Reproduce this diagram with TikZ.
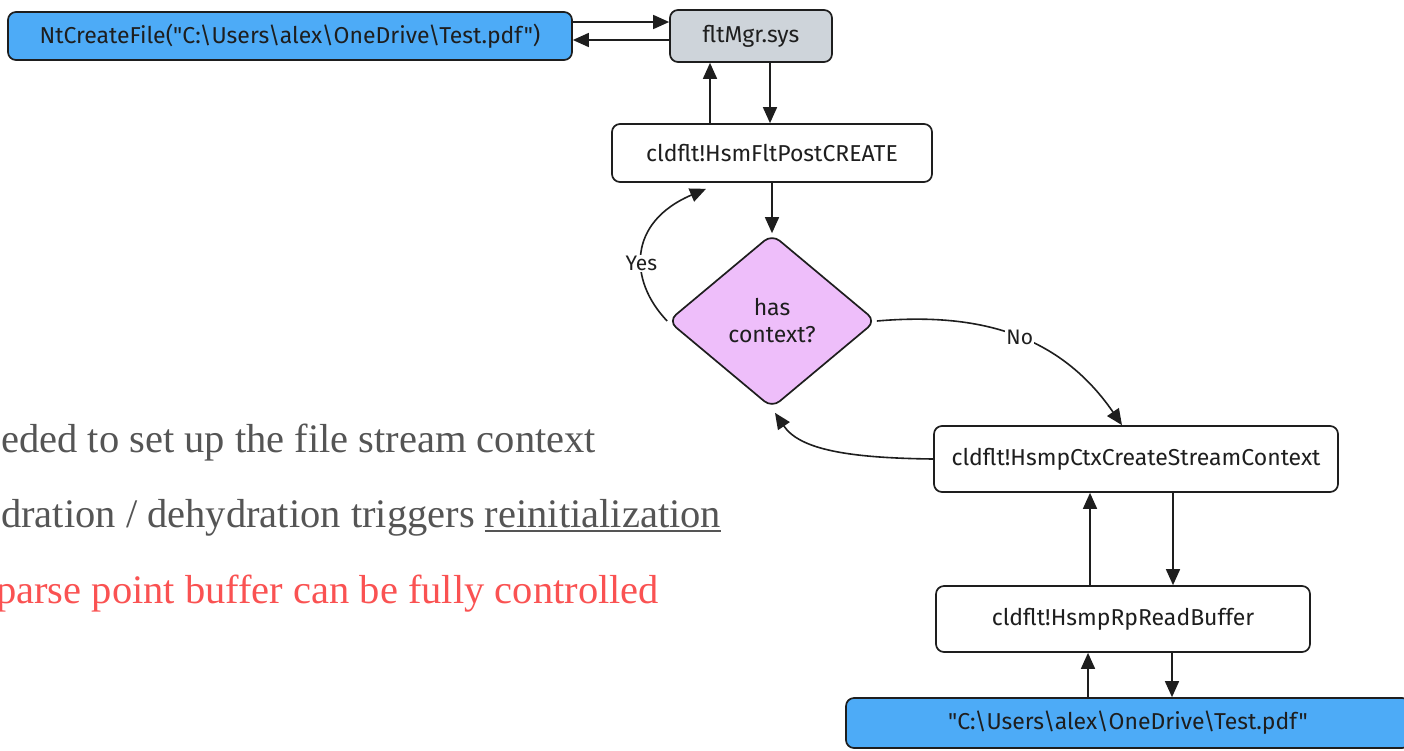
\documentclass[tikz,border=0pt]{standalone}
\usepackage{fontspec}
\setmainfont{Liberation Serif}
\newfontfamily\diagfont{Fira Sans}
\usetikzlibrary{shapes.geometric,arrows.meta}
\definecolor{inkc}{HTML}{1E1E1E}
\definecolor{blueF}{HTML}{4DABF7}
\definecolor{greyF}{HTML}{CED4DA}
\definecolor{purpF}{HTML}{EEBEFA}
\definecolor{noteG}{HTML}{555555}
\definecolor{noteR}{HTML}{FA5252}
\newcommand\myul[1]{\setbox0\hbox{#1}\rlap{\rule[-5pt]{\wd0}{2pt}}\box0}
\tikzset{
  box/.style={draw=inkc, line width=1.7pt, rounded corners=8pt, fill=white,
    inner sep=0pt, font=\diagfont\fontsize{23}{27}\selectfont, text=inkc},
  arr/.style={draw=inkc, line width=1.6pt, -{Triangle[length=16pt,width=14pt]}},
  lbl/.style={fill=white, inner sep=1pt, font=\diagfont\fontsize{21}{24}\selectfont, text=inkc},
  note/.style={anchor=base west, inner sep=0pt, font=\fontsize{40.5}{46}\selectfont},
}
\begin{document}
\begin{tikzpicture}[x=1pt,y=-1pt]
\useasboundingbox (0,0) rectangle (1404,750);
\fill[white] (0,0) rectangle (1404,750);

% call chain boxes
\node[box, fill=blueF, minimum width=564pt, minimum height=48pt] (nt) at (290,36)
  {NtCreateFile("C:\textbackslash Users\textbackslash alex\textbackslash OneDrive\textbackslash Test.pdf")};
\node[box, fill=greyF, minimum width=162pt, minimum height=52pt] (flt) at (751,36) {fltMgr.sys};
\node[box, minimum width=320pt, minimum height=58pt] (post) at (772,153) {cldflt!HsmFltPostCREATE};
\node[box, diamond, fill=purpF, rounded corners=10pt, minimum width=208pt, minimum height=174pt,
  align=center] (dia) at (772,321) {has\\context?};
\node[box, minimum width=404pt, minimum height=66pt] (ctx) at (1136,459) {cldflt!HsmpCtxCreateStreamContext};
\node[box, minimum width=374pt, minimum height=66pt] (rb) at (1123,619) {cldflt!HsmpRpReadBuffer};
\node[box, fill=blueF, minimum width=564pt, minimum height=50pt] (file) at (1128,723)
  {"C:\textbackslash Users\textbackslash alex\textbackslash OneDrive\textbackslash Test.pdf"};

% connectors
\draw[arr] ([yshift=14pt]nt.east) -- ([yshift=14pt]nt.east -| flt.west);
\draw[arr] ([yshift=-4pt]flt.west) -- ([yshift=-4pt]flt.west -| nt.east);
\draw[arr] ([xshift=-62pt]post.north) -- ([xshift=-62pt]post.north |- flt.south);
\draw[arr] ([xshift=19pt]flt.south) -- ([xshift=19pt]flt.south |- post.north);
\draw[arr] (post.south) -- (dia.north);
\draw[arr] (dia.west) .. controls (628,280) and (628,222) .. ([xshift=-66pt,yshift=-6pt]post.south)
  node[lbl, pos=0.42] {Yes};
\draw[arr] (dia.east) .. controls (980,312) and (1060,335) .. ([xshift=-14pt]ctx.north)
  node[lbl, pos=0.52] {No};
\draw[arr] (ctx.west) .. controls (850,458) and (800,450) .. ([xshift=3pt,yshift=-4pt]dia.south);
\draw[arr] ([xshift=-33pt]rb.north) -- ([xshift=-33pt]rb.north |- ctx.south);
\draw[arr] ([xshift=37pt]ctx.south) -- ([xshift=37pt]ctx.south |- rb.north);
\draw[arr] ([xshift=-40pt]file.north) -- ([xshift=-40pt]file.north |- rb.south);
\draw[arr] ([xshift=49pt]rb.south) -- ([xshift=49pt]rb.south |- file.north);

% notes on the left
\node[note, text=noteG] (n1) at (1,452) {eded to set up the file stream context};
\node[note, text=noteG] (n2) at (1,527) {dration / dehydration triggers \myul{reinitialization}};
\node[note, text=noteR] (n3) at (-4,603) {parse point buffer can be fully controlled};
\end{tikzpicture}
\end{document}
